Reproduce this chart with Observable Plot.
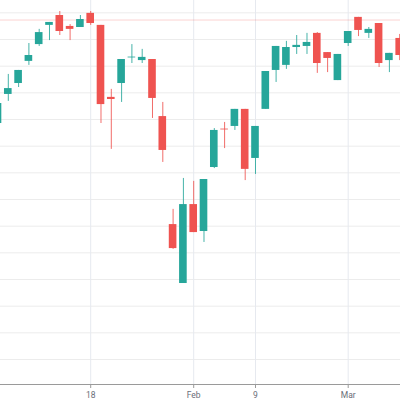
<!DOCTYPE html>
<html>
<head>
<meta charset="utf-8">
<script src="https://cdn.jsdelivr.net/npm/d3@7"></script>
<script src="https://cdn.jsdelivr.net/npm/@observablehq/plot@0.6"></script>
<style>
  html, body { margin: 0; padding: 0; background: #fff; }
  #chart { width: 400px; height: 400px; overflow: hidden; }
</style>
</head>
<body>
<div id="chart"></div>
<script>
// Daily OHLC values
const open  = [198.5, 209.4, 213.5, 221.8, 228.1, 235.3, 239.0, 234.9, 234.5, 239.8,
               235.3, 208.3, 213.5, 223.1, 222.1, 222.5, 201.1, 160.6, 138.5, 168.1,
               158.0, 182.0, 196.4, 197.4, 203.8, 185.4, 203.8, 218.4, 220.3, 227.0,
               227.4, 232.3, 225.1, 214.6, 228.5, 238.3, 232.3, 236.0, 222.1, 230.4];
const high  = [207.1, 216.9, 218.4, 228.5, 233.8, 236.4, 240.5, 235.6, 239.0, 240.5,
               235.3, 211.3, 222.5, 228.1, 226.3, 222.5, 206.4, 166.3, 177.9, 176.8,
               177.5, 196.6, 198.9, 203.8, 203.8, 197.4, 218.0, 227.4, 229.3, 231.5,
               232.3, 232.6, 225.1, 224.4, 233.0, 238.3, 234.5, 236.0, 224.8, 231.9];
const low   = [197.4, 206.8, 212.0, 220.3, 227.4, 229.6, 231.5, 229.6, 234.5, 235.3,
               198.5, 188.8, 206.4, 221.0, 221.0, 200.4, 183.9, 151.3, 138.5, 157.6,
               153.9, 181.6, 189.1, 195.9, 177.1, 179.4, 203.8, 213.9, 218.8, 224.4,
               224.4, 217.3, 217.6, 214.6, 227.4, 231.1, 230.4, 219.5, 217.6, 222.1];
const close = [206.0, 211.6, 218.4, 224.0, 232.6, 236.4, 233.0, 233.8, 237.5, 236.0,
               205.6, 207.5, 222.5, 223.4, 223.3, 207.9, 188.4, 151.6, 168.1, 157.6,
               177.5, 195.9, 196.1, 203.8, 181.3, 197.4, 218.0, 227.4, 227.0, 227.8,
               228.9, 221.0, 222.9, 224.4, 233.0, 233.4, 233.8, 221.0, 224.8, 224.0];

// Time axis: bar positions of the labelled ticks and their labels
const tickIndex  = [9, 19, 25, 34];
const tickLabels = ["18", "Feb", "9", "Mar"];

// Price grid levels and current price line
const gridLevels = [110, 120, 130, 140, 150, 160, 170, 180, 190, 200, 210, 220, 230, 240];
const lastPrice = 237.3;

const UP = "#26a69a", DOWN = "#ef5350";
const bars = open.map((o, i) => ({i, open: o, high: high[i], low: low[i], close: close[i]}));
const col = d => d.close >= d.open ? UP : DOWN;
const half = 0.37;

const chart = Plot.plot({
  width: 400,
  height: 400,
  marginTop: 0,
  marginRight: 0,
  marginLeft: 0,
  marginBottom: 16,
  x: {type: "linear", domain: [0.2427, 39.078], axis: null},
  y: {domain: [100.63, 244.63], axis: null},
  color: {type: "identity"},
  style: {background: "#ffffff", fontFamily: "Roboto, 'Liberation Sans', sans-serif", fontSize: "8.5px", overflow: "hidden"},
  marks: [
    Plot.ruleY(gridLevels, {stroke: "#ececec", strokeWidth: 1}),
    Plot.ruleX(tickIndex, {stroke: "#e6e9ef", strokeWidth: 1}),
    Plot.ruleY([lastPrice], {stroke: DOWN, strokeOpacity: 0.25, strokeWidth: 1}),
    Plot.ruleX(bars, {x: "i", y1: "low", y2: "high", stroke: col, strokeOpacity: 0.85, clip: true}),
    Plot.rect(bars, {x1: d => d.i - half, x2: d => d.i + half, y1: "open", y2: "close", fill: col, clip: true}),
    Plot.ruleY([100.63], {stroke: "#9a9a9a", strokeWidth: 1}),
    Plot.axisX(tickIndex, {
      tickSize: 4,
      tickPadding: 3,
      stroke: "#9a9a9a",
      fill: "#6a6d78",
      tickFormat: d => tickLabels[tickIndex.indexOf(d)],
      label: null
    })
  ]
});

document.getElementById("chart").appendChild(chart);
</script>
</body>
</html>
